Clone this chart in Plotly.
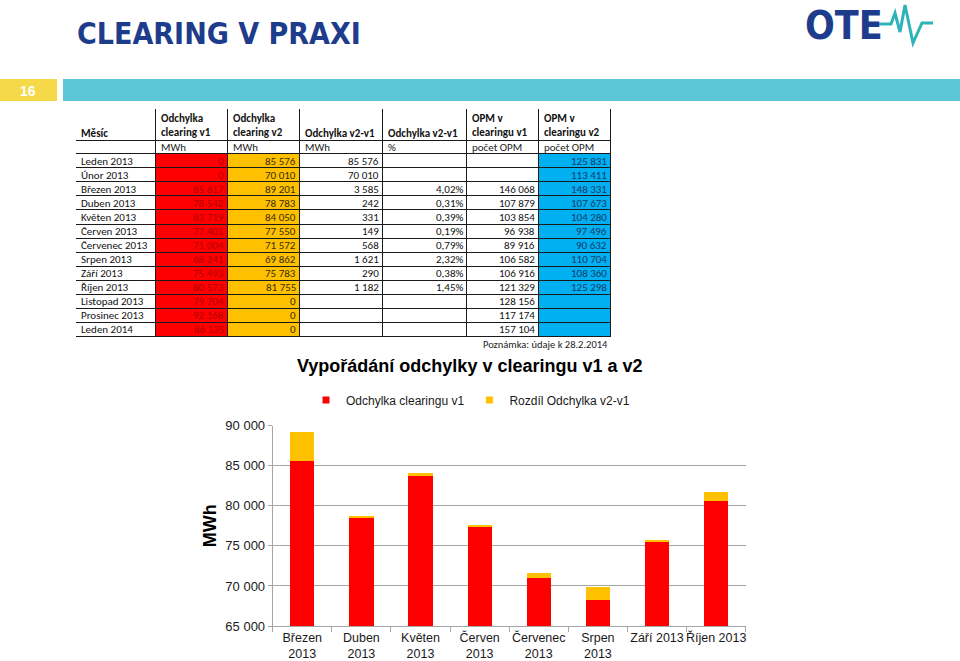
import plotly.graph_objects as go

# ---------------- data ----------------
table_months = ["Leden 2013", "Únor 2013", "Březen 2013", "Duben 2013", "Květen 2013",
                "Červen 2013", "Červenec 2013", "Srpen 2013", "Září 2013", "Říjen 2013",
                "Listopad 2013", "Prosinec 2013", "Leden 2014"]
odchylka_v1 = [0, 0, 85617, 78542, 83719, 77401, 71004, 68241, 75493, 80573, 79704, 92168, 86135]
odchylka_v2 = [85576, 70010, 89201, 78783, 84050, 77550, 71572, 69862, 75783, 81755, 0, 0, 0]
rozdil_mwh = [85576, 70010, 3585, 242, 331, 149, 568, 1621, 290, 1182, None, None, None]
rozdil_pct = [None, None, "4,02%", "0,31%", "0,39%", "0,19%", "0,79%", "2,32%", "0,38%", "1,45%", None, None, None]
opm_v1 = [None, None, 146068, 107879, 103854, 96938, 89916, 106582, 106916, 121329, 128156, 117174, 157104]
opm_v2 = [125831, 113411, 148331, 107673, 104280, 97496, 90632, 110704, 108360, 125298, None, None, None]

table_header = ["Měsíc", "Odchylka<br>clearing v1", "Odchylka<br>clearing v2", "Odchylka v2-v1",
                "Odchylka v2-v1", "OPM v<br>clearingu v1", "OPM v<br>clearingu v2"]
table_units = ["", "MWh", "MWh", "MWh", "%", "počet OPM", "počet OPM"]

chart_months = ["Březen 2013", "Duben 2013", "Květen 2013", "Červen 2013",
                "Červenec 2013", "Srpen 2013", "Září 2013", "Říjen 2013"]
chart_labels = ["Březen<br>2013", "Duben<br>2013", "Květen<br>2013", "Červen<br>2013",
                "Červenec<br>2013", "Srpen<br>2013", "Září 2013", "Říjen 2013"]
chart_v1 = [85617, 78542, 83719, 77401, 71004, 68241, 75493, 80573]
chart_diff = [3585, 242, 331, 149, 568, 1621, 290, 1182]
y_ticks = [65000, 70000, 75000, 80000, 85000, 90000]

series_names = ["Odchylka clearingu v1", "Rozdíl Odchylka v2-v1"]
chart_title = "Vypořádání odchylky v clearingu v1 a v2"
slide_title = "CLEARING V PRAXI"
page_no = "16"
note = "Poznámka: údaje k 28.2.2014"

# ---------------- styles ----------------
RED, ORANGE, BLUE = "#FF0000", "#FFC000", "#00B0F0"
NAVY = "#1E3C8C"
TEAL = "#2DB3B8"
GRID = "#A6A6A6"
W, H = 960, 661
CHART_FONT = "Liberation Sans, Arial, sans-serif"
TABLE_FONT = "Carlito, Lato, sans-serif"
COND_FONT = "Liberation Sans Narrow, DejaVu Sans Condensed, Liberation Sans, sans-serif"


def fmt(v):
    if v is None:
        return ""
    if isinstance(v, str):
        return v
    return f"{v:,}".replace(",", " ")


fig = go.Figure()

# ---------------- table (heatmap on its own axes) ----------------
col_widths = [80, 72, 72, 83, 84, 72, 72]
row_heights = [32, 13] + [14] * len(table_months)
x_edges = [0]
for w in col_widths:
    x_edges.append(x_edges[-1] + w)
y_edges = [0]
for h in row_heights:
    y_edges.append(y_edges[-1] + h)

col_fill = [0, 1, 2, 0, 0, 0, 3]  # fill class per column for data rows
columns = [table_months, odchylka_v1, odchylka_v2, rozdil_mwh, rozdil_pct, opm_v1, opm_v2]
z = [[0] * len(columns), [0] * len(columns)]
for i in range(len(table_months)):
    z.append([col_fill[j] for j in range(len(columns))])

fig.add_trace(go.Heatmap(
    x=x_edges, y=y_edges, z=z, xaxis="x2", yaxis="y2",
    zmin=0, zmax=3, showscale=False, hoverinfo="skip", xgap=1, ygap=1,
    colorscale=[[0, "#FFFFFF"], [0.166, "#FFFFFF"], [0.166, RED], [0.5, RED],
                [0.5, ORANGE], [0.833, ORANGE], [0.833, BLUE], [1, BLUE]],
))

annotations = []
txt_color = {0: "#111111", 1: "#B00000", 2: "#3A2E00", 3: "#123A6B"}
# header
for j, t in enumerate(table_header):
    two = "<br>" in t
    yc = (y_edges[0] + y_edges[1]) / 2 if two else y_edges[1] - 8
    annotations.append(dict(x=x_edges[j] + 3, y=yc, xref="x2", yref="y2", text="<b>" + t + "</b>",
                            showarrow=False, xanchor="left", yanchor="middle", align="left",
                            font=dict(family=TABLE_FONT, size=11, color="#111111")))
# units
for j, t in enumerate(table_units):
    if t:
        annotations.append(dict(x=x_edges[j] + 3, y=(y_edges[1] + y_edges[2]) / 2, xref="x2", yref="y2",
                                text=t, showarrow=False, xanchor="left", yanchor="middle",
                                font=dict(family=TABLE_FONT, size=11, color="#222222")))
# body
for i in range(len(table_months)):
    yc = (y_edges[i + 2] + y_edges[i + 3]) / 2
    for j, col in enumerate(columns):
        t = fmt(col[i])
        if not t:
            continue
        if j == 0:
            ann = dict(x=x_edges[0] + 3, xanchor="left")
        else:
            ann = dict(x=x_edges[j + 1] - 2, xanchor="right")
        ann.update(y=yc, xref="x2", yref="y2", text=t, showarrow=False, yanchor="middle",
                   font=dict(family=TABLE_FONT, size=11, color=txt_color[col_fill[j]]))
        annotations.append(ann)

# ---------------- chart ----------------
fig.add_trace(go.Bar(x=chart_months, y=chart_v1, marker_color=RED, showlegend=False,
                     name=series_names[0]))
fig.add_trace(go.Bar(x=chart_months, y=chart_diff, marker_color=ORANGE, showlegend=False,
                     name=series_names[1]))
# legend entries
fig.add_trace(go.Scatter(x=[None], y=[None], mode="markers", name=series_names[0],
                         marker=dict(symbol="square", size=7, color=RED)))
fig.add_trace(go.Scatter(x=[None], y=[None], mode="markers", name=series_names[1],
                         marker=dict(symbol="square", size=7, color=ORANGE)))

# texts
annotations += [
    dict(x=75 / W, y=1 - 33 / H, xref="paper", yref="paper", text="<b>" + slide_title + "</b>",
         showarrow=False, xanchor="left", yanchor="middle",
         font=dict(family=COND_FONT, size=30, color=NAVY)),
    dict(x=803 / W, y=1 - 25 / H, xref="paper", yref="paper", text="<b>OTE</b>",
         showarrow=False, xanchor="left", yanchor="middle",
         font=dict(family=COND_FONT, size=39, color=NAVY)),
    dict(x=28 / W, y=1 - 91 / H, xref="paper", yref="paper", text="<b>" + page_no + "</b>",
         showarrow=False, xanchor="center", yanchor="middle",
         font=dict(family=CHART_FONT, size=14, color="#FFFFFF")),
    dict(x=610 / W, y=1 - 344 / H, xref="paper", yref="paper", text=note,
         showarrow=False, xanchor="right", yanchor="middle",
         font=dict(family=TABLE_FONT, size=10.5, color="#222222")),
    dict(x=469 / W, y=1 - 366 / H, xref="paper", yref="paper", text="<b>" + chart_title + "</b>",
         showarrow=False, xanchor="center", yanchor="middle",
         font=dict(family=CHART_FONT, size=18, color="#000000")),
]

shapes = [
    dict(type="rect", xref="x2", yref="y2", x0=-1.5, x1=x_edges[-1] + 1.5, y0=-1.5, y1=y_edges[-1] + 1.5,
         fillcolor="#1A1A1A", line=dict(width=0), layer="below"),
    dict(type="rect", xref="paper", yref="paper", x0=0, x1=57 / W, y0=1 - 101 / H, y1=1 - 79 / H,
         fillcolor="#F5D949", line=dict(width=0)),
    dict(type="rect", xref="paper", yref="paper", x0=63 / W, x1=1, y0=1 - 101 / H, y1=1 - 79 / H,
         fillcolor="#5BC6D5", line=dict(width=0)),
]
wave = [(879, 24), (891, 24), (895, 13), (900, 32), (905, 5), (913, 43), (922, 23), (933, 23)]
path = "M " + " L ".join(f"{x / W:.5f},{1 - y / H:.5f}" for x, y in wave)
shapes.append(dict(type="path", xref="paper", yref="paper", path=path,
                   line=dict(color=TEAL, width=3)))

fig.update_layout(
    template="none",
    width=W, height=H, margin=dict(l=0, r=0, t=0, b=0, autoexpand=False),
    paper_bgcolor="#FFFFFF", plot_bgcolor="#FFFFFF",
    barmode="stack", bargap=0.59, separators=", ",
    font=dict(family=CHART_FONT, color="#1A1A1A"),
    annotations=annotations, shapes=shapes,
    showlegend=True,
    legend=dict(orientation="h", x=306 / W, y=1 - 400 / H, xanchor="left", yanchor="middle",
                traceorder="normal",
                font=dict(family=CHART_FONT, size=12, color="#1A1A1A"),
                bgcolor="rgba(0,0,0,0)", itemwidth=30),
    xaxis=dict(domain=[272.7 / W, 745.7 / W], type="category", tickvals=chart_months,
               ticktext=chart_labels, tickson="boundaries", ticks="outside", ticklen=5,
               tickangle=0, automargin=False,
               tickcolor=GRID, showline=True, linecolor=GRID, showgrid=False, zeroline=False,
               tickfont=dict(size=12.5, color="#1A1A1A")),
    yaxis=dict(domain=[1 - 626 / H, 1 - 425.7 / H], range=[65000, 90000], tickvals=y_ticks,
               tickformat=",", ticks="outside", ticklen=4, tickcolor=GRID, showline=True,
               linecolor=GRID, showgrid=True, gridcolor=GRID, gridwidth=1, zeroline=False,
               automargin=False,
               tickfont=dict(size=13, color="#1A1A1A"),
               title=dict(text="<b>MWh</b>", font=dict(size=18, color="#000000"), standoff=4)),
    xaxis2=dict(domain=[76 / W, 611 / W], range=[0, x_edges[-1]], visible=False, anchor="y2",
                automargin=False),
    yaxis2=dict(domain=[1 - 337 / H, 1 - 109 / H], range=[y_edges[-1], 0], visible=False, anchor="x2",
                automargin=False),
)

fig.write_html("out.html", config={"displayModeBar": False},
               post_script="document.body.style.margin='0';")
